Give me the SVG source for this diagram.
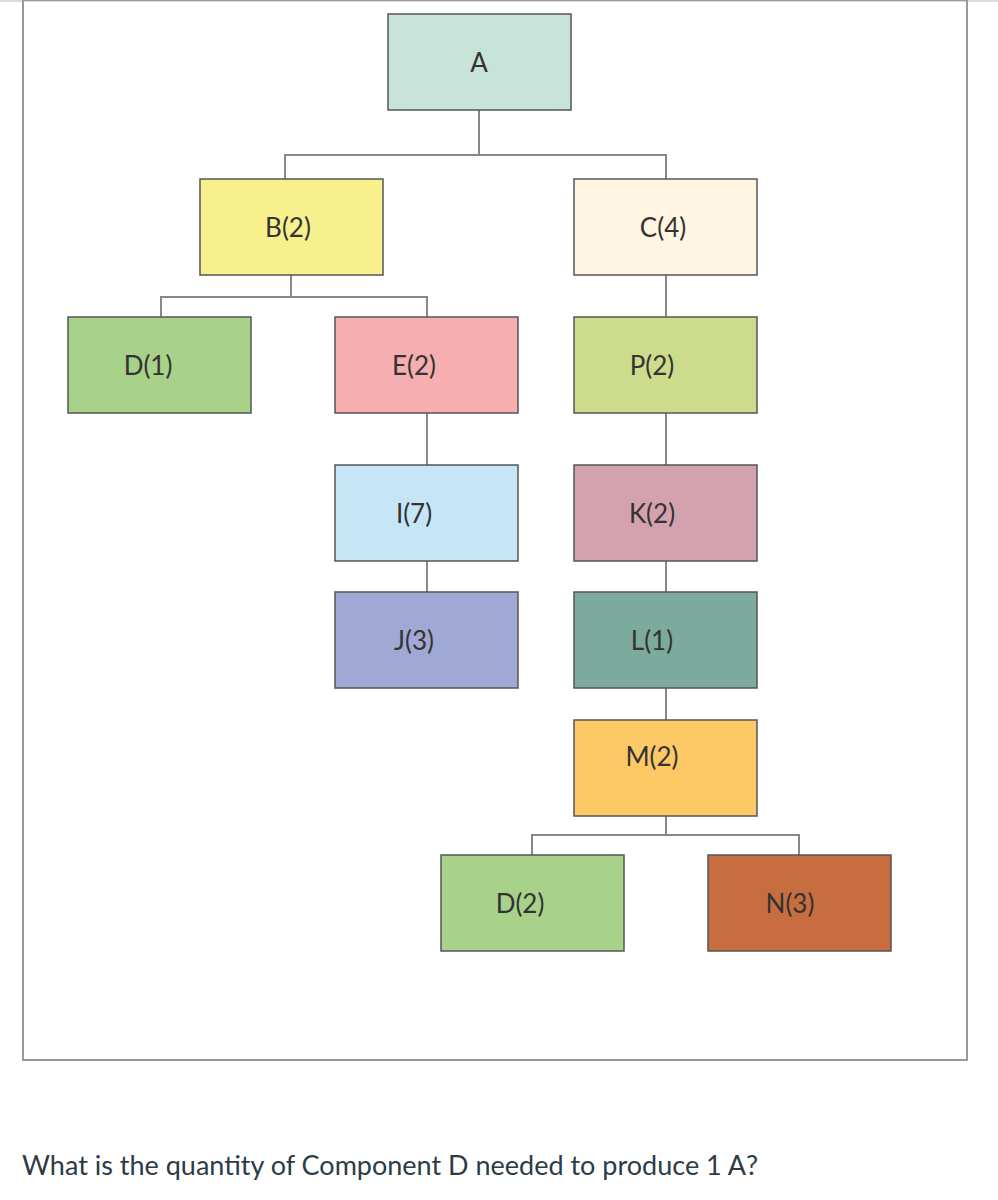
<svg xmlns="http://www.w3.org/2000/svg" width="998" height="1200" viewBox="0 0 998 1200">
<style>
.n rect{stroke:#555;stroke-width:1.5}
.n text{font-family:Lato,"Liberation Sans",sans-serif;font-size:26px;fill:#333;text-anchor:middle}
#conn path{fill:none;stroke:#888;stroke-width:2}
</style>
<rect width="998" height="1200" fill="#fff"/>
<line x1="0" y1="1" x2="998" y2="1" stroke="#ddd" stroke-width="2"/>
<rect x="23" y="0" width="944" height="1060" fill="none" stroke="#999" stroke-width="2"/>
<g id="conn">
<path d="M479 110V155M285 179V155H666V179"/>
<path d="M291 275V297M161 317V297H427V317"/>
<path d="M666 275V317M666 413V465M666 561V592M666 688V720"/>
<path d="M427 413V465M427 561V592"/>
<path d="M666 816V835M532 855V835H799V855"/>
</g>
<g id="A" class="n"><rect x="388" y="14" width="183" height="96" fill="#c8e4da"/><text x="479" y="72">A</text></g>
<g id="B" class="n"><rect x="200" y="179" width="183" height="96" fill="#f8f08c"/><text x="288" y="237">B(2)</text></g>
<g id="C" class="n"><rect x="574" y="179" width="183" height="96" fill="#fff5e0"/><text x="663" y="237">C(4)</text></g>
<g id="D1" class="n"><rect x="68" y="317" width="183" height="96" fill="#a8d18a"/><text x="148" y="375">D(1)</text></g>
<g id="E" class="n"><rect x="335" y="317" width="183" height="96" fill="#f6aeb0"/><text x="414" y="375">E(2)</text></g>
<g id="P" class="n"><rect x="574" y="317" width="183" height="96" fill="#ccdc8c"/><text x="652" y="375">P(2)</text></g>
<g id="I" class="n"><rect x="335" y="465" width="183" height="96" fill="#c6e6f8"/><text x="414" y="523">I(7)</text></g>
<g id="K" class="n"><rect x="574" y="465" width="183" height="96" fill="#d4a2ae"/><text x="652" y="523">K(2)</text></g>
<g id="J" class="n"><rect x="335" y="592" width="183" height="96" fill="#a0a8d4"/><text x="414" y="650">J(3)</text></g>
<g id="L" class="n"><rect x="574" y="592" width="183" height="96" fill="#7caa9c"/><text x="652" y="650">L(1)</text></g>
<g id="M" class="n"><rect x="574" y="720" width="183" height="96" fill="#fdc966"/><text x="652" y="766">M(2)</text></g>
<g id="D2" class="n"><rect x="441" y="855" width="183" height="96" fill="#a8d18a"/><text x="520" y="913">D(2)</text></g>
<g id="N" class="n"><rect x="708" y="855" width="183" height="96" fill="#c76d40"/><text x="790" y="913">N(3)</text></g>
<text x="22" y="1175" font-family="Lato,'Liberation Sans',sans-serif" font-size="27" fill="#2d3b45">What is the quantity of Component D needed to produce 1 A?</text>
</svg>
